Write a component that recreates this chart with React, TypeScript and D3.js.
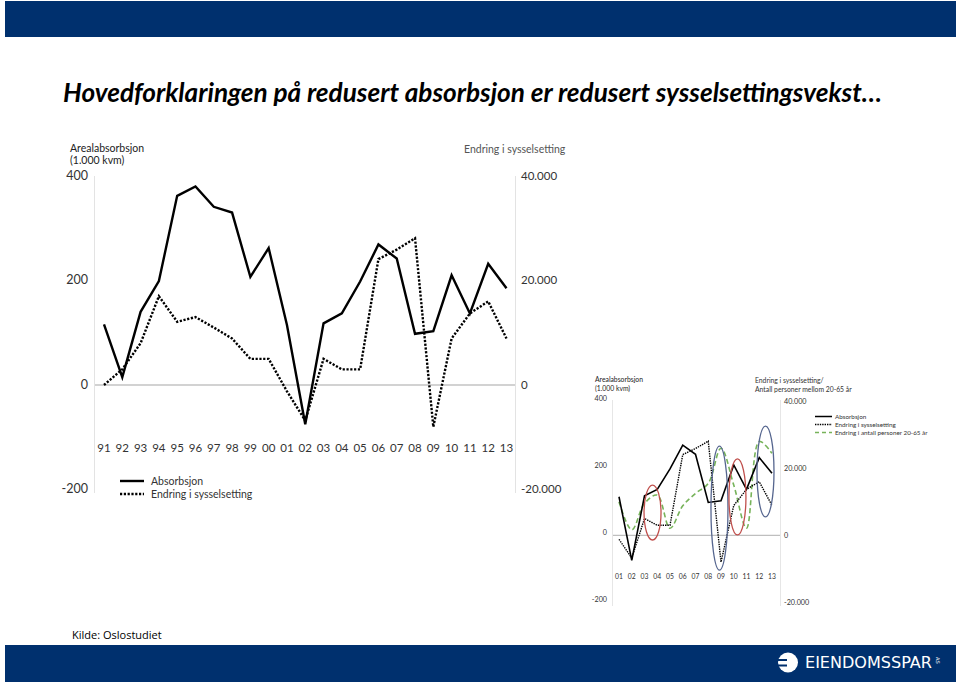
import React from "react";
import * as d3 from "d3";

// ---------- data ----------
const years = ["91","92","93","94","95","96","97","98","99","00","01","02","03","04","05","06","07","08","09","10","11","12","13"];
const absorbsjon = [116, 15, 140, 199, 362, 380, 341, 330, 207, 262, 115, -75, 118, 137, 198, 269, 242, 98, 103, 210, 137, 232, 185];
const sysselsetting = [0, 3000, 8000, 17000, 12100, 13000, 11000, 8900, 5000, 5000, -1200, -6800, 5000, 3000, 3000, 24100, 25900, 28100, -8000, 8900, 13700, 16000, 8900];
const yearsSmall = years.slice(10);
const absorbsjonSmall = absorbsjon.slice(10);
const sysselsettingSmall = sysselsetting.slice(10);
const personer20_65 = [10000, 1600, 9500, 12000, 2100, 8800, 12500, 15500, 26000, 15000, 2100, 28000, 24500];
const leftTicks = [400, 200, 0, -200];
const rightTicks = [40000, 20000, 0, -20000];
// highlighted regions in the small chart: centre (category index), value range
const ringCentre = [2.63, 7.88, 9.29, 11.49];
const ringLow = [-14, -104, 1, 55];
const ringHigh = [150, 266, 228, 326];
const ringKind = ["red", "blue", "red", "blue"];

const title = "Hovedforklaringen på redusert absorbsjon er redusert sysselsettingsvekst…";

// ---------- styles ----------
const NAVY = "#00306e";
const FONT = "Lato, 'Open Sans', sans-serif";
const RING_COLORS: Record<string, string> = { red: "#c0504d", blue: "#56668f" };

const locale = d3.formatLocale({ decimal: ",", thousands: ".", grouping: [3], currency: ["", ""], minus: "-" });
const fmtRight = locale.format(",");

export default function App() {
  // main chart scales
  const x = d3.scalePoint<string>().domain(years).range([104, 506.5]);
  const yL = d3.scaleLinear().domain([-200, 400]).range([489.5, 176]);
  const yR = d3.scaleLinear().domain([-20000, 40000]).range([489.5, 176]);

  const lineA = d3.line<number>().x((_, i) => x(years[i])!).y((d) => yL(d));
  const lineS = d3.line<number>().x((_, i) => x(years[i])!).y((d) => yR(d));

  // small chart scales
  const xs = d3.scalePoint<string>().domain(yearsSmall).range([619, 772]);
  const xi = d3.scaleLinear().domain([0, yearsSmall.length - 1]).range([619, 772]);
  const ysL = d3.scaleLinear().domain([-200, 400]).range([602.3, 401.3]);
  const ysR = d3.scaleLinear().domain([-20000, 40000]).range([602.3, 401.3]);

  const sLineA = d3.line<number>().x((_, i) => xs(yearsSmall[i])!).y((d) => ysL(d));
  const sLineS = d3.line<number>().x((_, i) => xs(yearsSmall[i])!).y((d) => ysR(d));
  const sLineP = d3
    .line<number>()
    .x((_, i) => xs(yearsSmall[i])!)
    .y((d) => ysR(d))
    .curve(d3.curveCatmullRom.alpha(0.5));

  return (
    <svg width={960} height={686} style={{ position: "absolute", left: 0, top: 0, background: "#fff" }} fontFamily={FONT}>
      <rect x={0} y={0} width={960} height={686} fill="#fff" />
      {/* header bar */}
      <rect x={5} y={1} width={951} height={36} fill={NAVY} />
      {/* title */}
      <text x={63} y={102} fontSize={27} fontWeight={700} fontStyle="italic" fill="#000" textLength={819} lengthAdjust="spacingAndGlyphs">
        {title}
      </text>

      {/* ===== main chart ===== */}
      <g>
        <line x1={94.5} x2={94.5} y1={176} y2={493} stroke="#e3e3e3" />
        <line x1={515.5} x2={515.5} y1={176} y2={493} stroke="#e3e3e3" />
        <line x1={95} x2={515} y1={yL(0)} y2={yL(0)} stroke="#a6a6a6" strokeWidth={1.2} />
        <text x={70} y={152} fontSize={10.5} fill="#222">Arealabsorbsjon</text>
        <text x={70} y={164} fontSize={10.5} fill="#222">(1.000 kvm)</text>
        <text x={464} y={153} fontSize={10.5} fill="#555">Endring i sysselsetting</text>
        {leftTicks.map((t) => (
          <text key={t} x={88} y={yL(t) - 1} fontSize={12.5} textAnchor="end" dominantBaseline="central" fill="#333">
            {t}
          </text>
        ))}
        {rightTicks.map((t) => (
          <text key={t} x={521} y={yR(t) - 1} fontSize={11.5} dominantBaseline="central" fill="#333">
            {fmtRight(t)}
          </text>
        ))}
        {years.map((yr) => (
          <text key={yr} x={x(yr)} y={447} fontSize={11.5} textAnchor="middle" dominantBaseline="central" fill="#333">
            {yr}
          </text>
        ))}
        <path d={lineS(sysselsetting)!} fill="none" stroke="#000" strokeWidth={2.4} strokeDasharray="2.2 1.6" />
        <path d={lineA(absorbsjon)!} fill="none" stroke="#000" strokeWidth={2.4} strokeLinejoin="miter" />
        {/* legend */}
        <line x1={120} x2={144} y1={481} y2={481} stroke="#000" strokeWidth={2.4} />
        <text x={151} y={481} fontSize={10.5} dominantBaseline="central" fill="#333">Absorbsjon</text>
        <line x1={120} x2={144} y1={494} y2={494} stroke="#000" strokeWidth={2.4} strokeDasharray="2.2 1.6" />
        <text x={151} y={494} fontSize={10.5} dominantBaseline="central" fill="#333">Endring i sysselsetting</text>
      </g>

      {/* ===== small chart ===== */}
      <g>
        <line x1={612.5} x2={612.5} y1={400} y2={606} stroke="#e6e6e6" />
        <line x1={780.5} x2={780.5} y1={400} y2={606} stroke="#e6e6e6" />
        <line x1={613} x2={780} y1={ysL(0)} y2={ysL(0)} stroke="#a6a6a6" strokeWidth={0.9} />
        <text x={595} y={382} fontSize={6.8} fill="#222">Arealabsorbsjon</text>
        <text x={595} y={390.5} fontSize={6.8} fill="#222">(1.000 kvm)</text>
        <text x={755} y={383} fontSize={6.8} fill="#333">Endring i sysselsetting/</text>
        <text x={755} y={391.5} fontSize={6.8} fill="#333">Antall personer mellom 20-65 år</text>
        {leftTicks.map((t) => (
          <text key={t} x={607} y={ysL(t) - 2.5} fontSize={7.2} textAnchor="end" dominantBaseline="central" fill="#333">
            {t}
          </text>
        ))}
        {rightTicks.map((t) => (
          <text key={t} x={784} y={ysR(t) + 0.5} fontSize={7.2} dominantBaseline="central" fill="#333">
            {fmtRight(t)}
          </text>
        ))}
        {yearsSmall.map((yr) => (
          <text key={yr} x={xs(yr)} y={575.5} fontSize={6.8} textAnchor="middle" dominantBaseline="central" fill="#333">
            {yr}
          </text>
        ))}
        <path d={sLineP(personer20_65)!} fill="none" stroke="#77b35a" strokeWidth={1.6} strokeDasharray="5 3" />
        <path d={sLineS(sysselsettingSmall)!} fill="none" stroke="#000" strokeWidth={1.4} strokeDasharray="1.4 1" />
        <path d={sLineA(absorbsjonSmall)!} fill="none" stroke="#000" strokeWidth={1.6} />
        {ringCentre.map((c, i) => (
          <ellipse
            key={i}
            cx={xi(c)}
            cy={(ysL(ringLow[i]) + ysL(ringHigh[i])) / 2}
            rx={8.5}
            ry={(ysL(ringLow[i]) - ysL(ringHigh[i])) / 2}
            fill="none"
            stroke={RING_COLORS[ringKind[i]]}
            strokeWidth={1.3}
          />
        ))}
        {/* legend */}
        <line x1={815} x2={832} y1={416.5} y2={416.5} stroke="#000" strokeWidth={1.5} />
        <text x={835} y={416.5} fontSize={6.3} dominantBaseline="central" fill="#333">Absorbsjon</text>
        <line x1={815} x2={832} y1={424.5} y2={424.5} stroke="#000" strokeWidth={1.3} strokeDasharray="1.4 1" />
        <text x={835} y={424.5} fontSize={6.3} dominantBaseline="central" fill="#333">Endring i sysselsetting</text>
        <line x1={815} x2={832} y1={432.5} y2={432.5} stroke="#77b35a" strokeWidth={1.3} strokeDasharray="4 3" />
        <text x={835} y={432.5} fontSize={6.3} dominantBaseline="central" fill="#333">Endring i antall personer 20-65 år</text>
      </g>

      {/* source */}
      <text x={72} y={639} fontSize={11} fontFamily="'Open Sans', sans-serif" fill="#000">Kilde: Oslostudiet</text>

      {/* footer bar */}
      <rect x={5} y={645} width={951} height={37} fill={NAVY} />
      <g>
        <circle cx={788} cy={662.5} r={10} fill="#fff" />
        <rect x={777} y={659} width={10} height={2} fill={NAVY} />
        <rect x={777} y={664.5} width={10} height={2} fill={NAVY} />
        <text x={805} y={668} fontSize={15} fill="#fff" fontFamily="'DejaVu Sans', sans-serif" textLength={127} lengthAdjust="spacingAndGlyphs">
          EIENDOMSSPAR
        </text>
        <text x={0} y={0} fontSize={5} fill="#fff" fontFamily="'DejaVu Sans', sans-serif" transform="translate(936,657) rotate(90)">
          AS
        </text>
      </g>
    </svg>
  );
}
